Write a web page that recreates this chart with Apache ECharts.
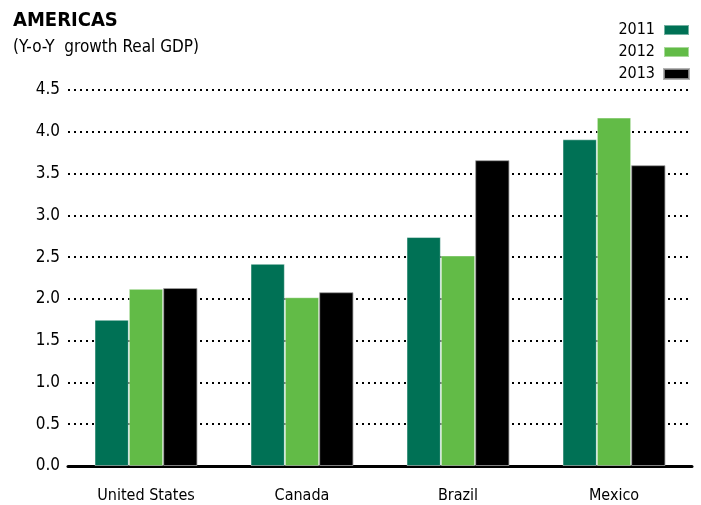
<!DOCTYPE html>
<html>
<head>
<meta charset="utf-8">
<script src="https://cdn.jsdelivr.net/npm/echarts@6/dist/echarts.min.js"></script>
<style>
  html, body { margin: 0; padding: 0; background: #fff; }
  #chart { width: 701px; height: 505px; }
</style>
</head>
<body>
<div id="chart"></div>
<script>
  // data
  const countries = ['United States', 'Canada', 'Brazil', 'Mexico']
  const years = ['2011', '2012', '2013']
  const gdp2011 = [1.75, 2.42, 2.74, 3.91]
  const gdp2012 = [2.12, 2.02, 2.52, 4.17]
  const gdp2013 = [2.13, 2.08, 3.66, 3.60]
  const yTicks = ['0.0', '0.5', '1.0', '1.5', '2.0', '2.5', '3.0', '3.5', '4.0', '4.5']

  const colors = ['#007155', '#62bb47', '#000000']
  const font = "'DejaVu Sans Condensed', 'Liberation Sans Narrow', sans-serif"

  const chart = echarts.init(document.getElementById('chart'))
  chart.setOption({
    animation: false,
    color: colors,
    textStyle: { fontFamily: font, color: '#000' },
    title: {
      text: 'AMERICAS',
      subtext: '(Y-o-Y  growth Real GDP)',
      left: 8,
      top: 6,
      itemGap: 8,
      textStyle: { fontFamily: font, fontSize: 20, fontWeight: 'bold', color: '#000' },
      subtextStyle: { fontFamily: font, fontSize: 17, color: '#000' }
    },
    legend: {
      orient: 'vertical',
      right: 6,
      top: 17,
      align: 'right',
      itemWidth: 25,
      itemHeight: 10,
      itemGap: 6,
      icon: 'rect',
      data: years,
      textStyle: { fontFamily: font, fontSize: 16, color: '#000', padding: [0, 4, 0, 0] }
    },
    grid: {
      left: 68,
      right: 9,
      top: 90,
      bottom: 39
    },
    xAxis: {
      type: 'category',
      data: countries,
      axisTick: { show: false },
      axisLine: { lineStyle: { color: '#000', width: 3 } },
      axisLabel: { fontFamily: font, fontSize: 16, color: '#000', margin: 22 }
    },
    yAxis: {
      type: 'value',
      min: 0,
      max: 4.5,
      interval: 0.5,
      axisLine: { show: false },
      axisTick: { show: false },
      axisLabel: {
        fontFamily: font,
        fontSize: 17,
        color: '#000',
        margin: 8,
        formatter: (v) => yTicks[Math.round(v / 0.5)]
      },
      splitLine: { lineStyle: { color: '#000', width: 2, type: [2, 4] } }
    },
    series: [
      { name: years[0], type: 'bar', data: gdp2011, barGap: 0, barCategoryGap: '34%',
        itemStyle: { borderColor: 'rgba(255,255,255,0.45)', borderWidth: 1 } },
      { name: years[1], type: 'bar', data: gdp2012, barGap: 0, barCategoryGap: '34%',
        itemStyle: { borderColor: 'rgba(255,255,255,0.45)', borderWidth: 1 } },
      { name: years[2], type: 'bar', data: gdp2013, barGap: 0, barCategoryGap: '34%',
        itemStyle: { borderColor: 'rgba(160,160,160,0.8)', borderWidth: 1 } }
    ]
  })
</script>
</body>
</html>
